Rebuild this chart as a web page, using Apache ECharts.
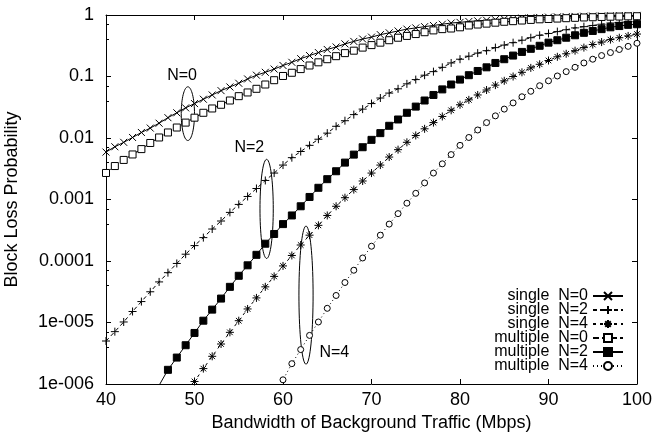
<!DOCTYPE html>
<html><head><meta charset="utf-8">
<script src="https://cdn.jsdelivr.net/npm/echarts@6/dist/echarts.min.js"></script>
<style>html,body{margin:0;padding:0;background:#fff}#c{width:652px;height:436px}</style>
</head><body><div id="c"></div>
<script>
const bandwidth = [40,41,42,43,44,45,46,47,48,49,50,51,52,53,54,55,56,57,58,59,60,61,62,63,64,65,66,67,68,69,70,71,72,73,74,75,76,77,78,79,80,81,82,83,84,85,86,87,88,89,90,91,92,93,94,95,96,97,98,99,100];

const singleN0 = [5.9e-3,7.2e-3,8.5e-3,1.02e-2,1.23e-2,1.45e-2,1.74e-2,2.14e-2,2.57e-2,3.09e-2,3.63e-2,4.27e-2,5.01e-2,5.89e-2,6.76e-2,7.76e-2,9.12e-2,0.105,0.117,0.132,0.151,0.170,0.195,0.219,0.245,0.275,0.302,0.339,0.372,0.407,0.437,0.479,0.513,0.550,0.589,0.617,0.646,0.676,0.708,0.741,0.759,0.785,0.804,0.822,0.841,0.861,0.871,0.891,0.902,0.912,0.923,0.933,0.94,0.948,0.955,0.962,0.966,0.973,0.977,0.982,0.986];

const singleN2 = [5.0e-6,7.1e-6,1.02e-5,1.51e-5,2.19e-5,3.16e-5,4.57e-5,6.46e-5,9.12e-5,1.29e-4,1.78e-4,2.40e-4,3.31e-4,4.47e-4,6.17e-4,8.32e-4,1.12e-3,1.51e-3,2.04e-3,2.69e-3,3.63e-3,4.79e-3,6.03e-3,7.59e-3,9.55e-3,1.20e-2,1.55e-2,1.91e-2,2.40e-2,2.95e-2,3.63e-2,4.47e-2,5.37e-2,6.31e-2,7.59e-2,8.91e-2,0.105,0.120,0.141,0.166,0.191,0.214,0.240,0.263,0.295,0.324,0.355,0.389,0.427,0.468,0.501,0.537,0.575,0.617,0.646,0.676,0.708,0.741,0.759,0.776,0.794];

const singleN4 = [null,null,null,null,null,null,null,null,null,6.8e-7,1.10e-6,1.78e-6,2.82e-6,4.47e-6,6.92e-6,1.07e-5,1.66e-5,2.51e-5,3.80e-5,5.62e-5,8.32e-5,1.23e-4,1.82e-4,2.63e-4,3.80e-4,5.50e-4,7.76e-4,1.07e-3,1.45e-3,2.00e-3,2.69e-3,3.63e-3,4.90e-3,6.46e-3,8.51e-3,1.10e-2,1.41e-2,1.78e-2,2.24e-2,2.82e-2,3.47e-2,4.17e-2,5.01e-2,6.03e-2,7.24e-2,8.51e-2,0.100,0.117,0.138,0.158,0.182,0.209,0.234,0.263,0.295,0.331,0.363,0.398,0.427,0.457,0.490];

const multipleN0 = [2.7e-3,3.5e-3,4.4e-3,5.4e-3,6.6e-3,8.3e-3,1.02e-2,1.23e-2,1.48e-2,1.78e-2,2.14e-2,2.57e-2,3.02e-2,3.47e-2,4.07e-2,4.79e-2,5.50e-2,6.31e-2,7.41e-2,8.71e-2,0.102,0.115,0.132,0.151,0.170,0.191,0.214,0.240,0.263,0.295,0.324,0.355,0.389,0.427,0.457,0.490,0.525,0.562,0.589,0.603,0.631,0.676,0.700,0.724,0.750,0.776,0.794,0.813,0.832,0.851,0.861,0.875,0.887,0.900,0.912,0.920,0.929,0.938,0.944,0.951,0.955];

const multipleN2 = [null,null,null,null,null,null,9.5e-7,1.70e-6,2.69e-6,4.27e-6,6.76e-6,1.07e-5,1.62e-5,2.45e-5,3.80e-5,5.75e-5,8.51e-5,1.26e-4,1.91e-4,2.75e-4,3.98e-4,5.50e-4,7.76e-4,1.10e-3,1.55e-3,2.14e-3,2.88e-3,3.98e-3,5.37e-3,7.08e-3,9.33e-3,1.20e-2,1.58e-2,2.00e-2,2.57e-2,3.24e-2,4.07e-2,5.01e-2,6.17e-2,7.41e-2,8.91e-2,0.105,0.123,0.141,0.166,0.191,0.219,0.251,0.282,0.316,0.355,0.389,0.427,0.468,0.513,0.550,0.589,0.631,0.661,0.692,0.708];

const multipleN4 = [null,null,null,null,null,null,null,null,null,null,null,null,null,null,null,null,null,null,null,6.3e-7,1.17e-6,2.14e-6,3.63e-6,6.17e-6,1.02e-5,1.70e-5,2.75e-5,4.47e-5,7.08e-5,1.12e-4,1.74e-4,2.63e-4,3.98e-4,5.89e-4,8.71e-4,1.26e-3,1.86e-3,2.69e-3,3.80e-3,5.37e-3,7.59e-3,1.02e-2,1.35e-2,1.78e-2,2.29e-2,2.95e-2,3.72e-2,4.68e-2,5.75e-2,7.08e-2,8.51e-2,0.102,0.120,0.141,0.166,0.191,0.219,0.245,0.275,0.309,0.347];

const seriesNames = ['single N=0','single N=2','single N=4','multiple N=0','multiple N=2','multiple N=4'];
const yTickLabels = ['1e-006','1e-005','0.0001','0.001','0.01','0.1','1'];
const xTickLabels = ['40','50','60','70','80','90','100'];

// annotation groups (ellipse bounds in data coords + label)
const annoLabels = ['N=0','N=2','N=4'];
const annoXLeft = [48.5, 57.4, 61.8];
const annoXRight = [50.0, 58.9, 63.4];
const annoYTop = [0.068, 0.0045, 3.7e-4];
const annoYBottom = [0.0091, 1.1e-4, 2.1e-6];
const annoLabelX = [48.6, 56.2, 65.8];
const annoLabelY = [0.104, 0.0069, 3.3e-6];

const FONT = '"Liberation Sans", Arial, Helvetica, sans-serif';
const pair = arr => bandwidth.map((x, i) => [x, arr[i] == null ? '-' : arr[i]]);

const symX = 'path://M0,0L10,10M10,0L0,10';
const symPlus = 'path://M5,0L5,10M0,5L10,5';
const symStar = 'path://M5,0L5,10M0,5L10,5M1.5,1.5L8.5,8.5M8.5,1.5L1.5,8.5';

function lineSeries(name, data, symbol, size, fill, dash) {
  return {
    name, type: 'line', data: pair(data), xAxisIndex: 0, yAxisIndex: 0,
    symbol, symbolSize: size, symbolKeepAspect: true, showAllSymbol: true,
    connectNulls: false, clip: true,
    lineStyle: { color: '#000', width: 1, type: dash },
    itemStyle: { color: fill, borderColor: '#000', borderWidth: 1 },
    emphasis: { disabled: true }
  };
}

const chart = echarts.init(document.getElementById('c'), null, { renderer: 'canvas' });
const commonAxisLine = { show: true, onZero: false, lineStyle: { color: '#000', width: 1 } };

chart.setOption({
  animation: false,
  backgroundColor: '#fff',
  textStyle: { fontFamily: FONT },
  grid: { left: 106, right: 15, top: 15, bottom: 52, containLabel: false, outerBoundsMode: 'none' },
  xAxis: [{
    type: 'value', min: 40, max: 100, interval: 10, position: 'bottom',
    axisLine: commonAxisLine,
    axisTick: { show: true, inside: true, length: 5, lineStyle: { color: '#000' } },
    axisLabel: { fontSize: 18, color: '#000', fontFamily: FONT, margin: 7,
      formatter: v => xTickLabels[Math.round((v - 40) / 10)] },
    splitLine: { show: false },
    name: 'Bandwidth of Background Traffic (Mbps)', nameLocation: 'middle', nameGap: 28,
    nameTextStyle: { fontSize: 18, color: '#000', fontFamily: FONT }
  }, {
    type: 'value', min: 40, max: 100, interval: 10, position: 'top',
    axisLine: commonAxisLine,
    axisTick: { show: true, inside: true, length: 5, lineStyle: { color: '#000' } },
    axisLabel: { show: false }, splitLine: { show: false }
  }],
  yAxis: [{
    type: 'log', logBase: 10, min: 1e-6, max: 1, splitNumber: 6, position: 'left',
    axisLine: commonAxisLine,
    axisTick: { show: true, inside: true, length: 5, lineStyle: { color: '#000' } },
    minorTick: { show: true, splitNumber: 3, length: 3, lineStyle: { color: '#000' } },
    axisLabel: { fontSize: 18, color: '#000', fontFamily: FONT, margin: 12,
      formatter: v => yTickLabels[Math.round(Math.log10(v)) + 6] },
    splitLine: { show: false },
    name: 'Block Loss Probability', nameLocation: 'middle', nameGap: 85,
    nameTextStyle: { fontSize: 18, color: '#000', fontFamily: FONT }
  }, {
    type: 'log', logBase: 10, min: 1e-6, max: 1, splitNumber: 6, position: 'right',
    axisLine: commonAxisLine,
    axisTick: { show: true, inside: true, length: 5, lineStyle: { color: '#000' } },
    axisLabel: { show: false }, splitLine: { show: false }
  }],
  legend: {
    data: seriesNames, orient: 'vertical', right: 28, top: 288, align: 'right', padding: 0,
    itemWidth: 30, itemHeight: 10, itemGap: -2, selectedMode: false,
    formatter: n => n.replace(' N=', '  N='),
    textStyle: { fontSize: 16, color: '#000', fontFamily: FONT, lineHeight: 14, width: 110, align: 'right' }
  },
  series: [
    lineSeries(seriesNames[0], singleN0, symX, 7, '#000', 'solid'),
    lineSeries(seriesNames[1], singleN2, symPlus, 8, '#000', [4, 3]),
    lineSeries(seriesNames[2], singleN4, symStar, 8, '#000', [3, 4]),
    lineSeries(seriesNames[3], multipleN0, 'rect', 7, '#fff', [6, 3]),
    lineSeries(seriesNames[4], multipleN2, 'rect', 7, '#000', 'solid'),
    lineSeries(seriesNames[5], multipleN4, 'circle', 6, '#fff', [1, 3]),
    {
      type: 'custom', name: 'annotations', xAxisIndex: 0, yAxisIndex: 0, clip: false, silent: true,
      data: annoLabels.map((_, i) => [i]),
      renderItem: (params, api) => {
        const i = api.value(0);
        const p0 = api.coord([annoXLeft[i], annoYTop[i]]);
        const p1 = api.coord([annoXRight[i], annoYBottom[i]]);
        const cx = (p0[0] + p1[0]) / 2, cy = (p0[1] + p1[1]) / 2;
        const rx = Math.abs(p1[0] - p0[0]) / 2, ry = Math.abs(p1[1] - p0[1]) / 2;
        const pts = [];
        for (let k = 0; k < 72; k++) {
          const t = k / 72 * Math.PI * 2;
          pts.push([cx + rx * Math.cos(t), cy + ry * Math.sin(t)]);
        }
        const lp = api.coord([annoLabelX[i], annoLabelY[i]]);
        return {
          type: 'group',
          children: [
            { type: 'polygon', shape: { points: pts }, style: { fill: 'none', stroke: '#000', lineWidth: 1 } },
            { type: 'text', x: lp[0], y: lp[1], style: { text: annoLabels[i], fontSize: 16, fontFamily: FONT, fill: '#000', align: 'center', verticalAlign: 'middle' } }
          ]
        };
      }
    }
  ]
});
</script>
</body></html>
